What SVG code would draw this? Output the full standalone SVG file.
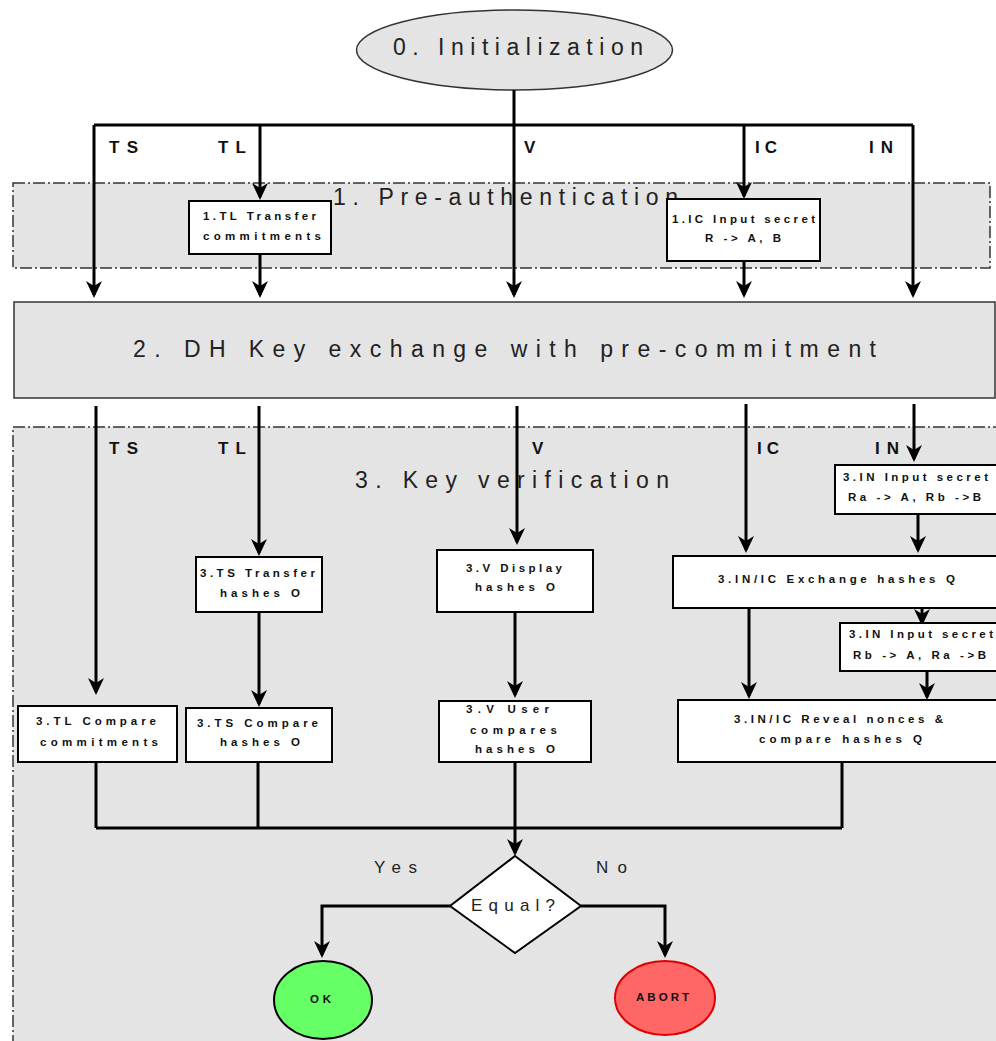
<svg xmlns="http://www.w3.org/2000/svg" width="996" height="1041" viewBox="0 0 996 1041">
<style>
.sec{fill:#e4e4e4;stroke:#333;stroke-width:1.5;stroke-dasharray:12,3,2,3}
.box{fill:#fff;stroke:#000;stroke-width:2}
.bt{font-family:"Liberation Sans",Arial,sans-serif;font-weight:bold;font-size:11.5px;fill:#111}
.lbl{font-family:"Liberation Sans",Arial,sans-serif;font-weight:bold;font-size:17px;fill:#111}
.ttl{font-family:"Liberation Sans",Arial,sans-serif;font-size:23px;fill:#222}
.yn{font-family:"Liberation Sans",Arial,sans-serif;font-size:17px;fill:#222}
.c{fill:none;stroke:#000;stroke-width:3}
.ca{fill:none;stroke:#000;stroke-width:3;marker-end:url(#ah)}
</style>
<defs>
<marker id="ah" markerUnits="userSpaceOnUse" viewBox="-17 -9 21 18" markerWidth="21" markerHeight="18" refX="0" refY="0" orient="auto">
<path d="M-14,-8 L-9,0 L-14,8 L3,0 z" fill="#000"/>
</marker>
</defs>
<rect width="996" height="1041" fill="#fff"/>

<g id="sec1">
<rect class="sec" x="13" y="183" width="977" height="85"/>
<text class="ttl" x="333" y="205" font-size="21" textLength="345" lengthAdjust="spacing">1. Pre-authentication</text>
</g>
<g id="sec3">
<rect class="sec" x="13" y="427" width="1000" height="700"/>
<text class="ttl" x="355" y="488" textLength="314" lengthAdjust="spacing">3. Key verification</text>
</g>

<g id="init">
<ellipse cx="514.5" cy="50" rx="158" ry="40" fill="#e4e4e4" stroke="#333" stroke-width="1.5"/>
<text class="ttl" x="393" y="55" textLength="250" lengthAdjust="spacing">0. Initialization</text>
</g>

<g id="dh">
<rect x="14" y="302" width="981" height="96" fill="#e4e4e4" stroke="#333" stroke-width="1.5"/>
<text class="ttl" x="133" y="357" textLength="743" lengthAdjust="spacing">2. DH Key exchange with pre-commitment</text>
</g>

<g id="connectors">
<path class="c" d="M514,90 V125 M94,125 H913"/>
<path class="ca" d="M94,125 V295"/>
<path class="ca" d="M260,125 V197"/>
<path class="ca" d="M260,254 V295"/>
<path class="ca" d="M514,125 V295"/>
<path class="ca" d="M744,125 V196"/>
<path class="ca" d="M744,261 V295"/>
<path class="ca" d="M913,125 V295"/>

<path class="ca" d="M96,406 V692"/>
<path class="ca" d="M259,406 V553"/>
<path class="ca" d="M259,612 V704"/>
<path class="ca" d="M517,406 V542"/>
<path class="ca" d="M515,612 V695"/>
<path class="ca" d="M746,404 V550"/>
<path class="ca" d="M749,590 V696"/>
<path class="ca" d="M914,404 V459"/>
<path class="ca" d="M918,514 V550"/>
<path class="ca" d="M922,590 V623"/>
<path class="ca" d="M927,671 V697"/>

<path class="c" d="M96,762 V828 M258,762 V828 M842,762 V828 M96,828 H842"/>
<path class="ca" d="M515,762 V853"/>
<path class="ca" d="M450,906 H322 V955"/>
<path class="ca" d="M581,906 H665 V955"/>
</g>

<g id="labels1">
<text class="lbl" x="109" y="153" textLength="29" lengthAdjust="spacing">TS</text>
<text class="lbl" x="218" y="153" textLength="28" lengthAdjust="spacing">TL</text>
<text class="lbl" x="524" y="153">V</text>
<text class="lbl" x="755" y="153" textLength="22" lengthAdjust="spacing">IC</text>
<text class="lbl" x="869" y="153" textLength="24" lengthAdjust="spacing">IN</text>
</g>
<g id="labels3">
<text class="lbl" x="109" y="454" textLength="29" lengthAdjust="spacing">TS</text>
<text class="lbl" x="218" y="454" textLength="28" lengthAdjust="spacing">TL</text>
<text class="lbl" x="532" y="454">V</text>
<text class="lbl" x="757" y="454" textLength="22" lengthAdjust="spacing">IC</text>
<text class="lbl" x="875" y="454" textLength="24" lengthAdjust="spacing">IN</text>
</g>

<g id="n1TL">
<rect class="box" x="189" y="201" width="142" height="53"/>
<text class="bt" x="203" y="220" textLength="113" lengthAdjust="spacing">1.TL Transfer</text>
<text class="bt" x="203" y="240" textLength="118" lengthAdjust="spacing">commitments</text>
</g>
<g id="n1IC">
<rect class="box" x="667" y="199" width="153" height="62"/>
<text class="bt" x="672" y="223" textLength="143" lengthAdjust="spacing">1.IC Input secret</text>
<text class="bt" x="705" y="242" textLength="76" lengthAdjust="spacing">R -&gt; A, B</text>
</g>

<g id="n3TLc">
<rect class="box" x="18" y="706" width="159" height="56"/>
<text class="bt" x="36" y="725" textLength="120" lengthAdjust="spacing">3.TL Compare</text>
<text class="bt" x="40" y="746" textLength="118" lengthAdjust="spacing">commitments</text>
</g>
<g id="n3TSt">
<rect class="box" x="196" y="557" width="126" height="55"/>
<text class="bt" x="200" y="577" textLength="115" lengthAdjust="spacing">3.TS Transfer</text>
<text class="bt" x="220" y="597" textLength="80" lengthAdjust="spacing">hashes O</text>
</g>
<g id="n3TSc">
<rect class="box" x="186" y="708" width="146" height="54"/>
<text class="bt" x="197" y="727" textLength="121" lengthAdjust="spacing">3.TS Compare</text>
<text class="bt" x="220" y="746" textLength="80" lengthAdjust="spacing">hashes O</text>
</g>
<g id="n3Vd">
<rect class="box" x="437" y="550" width="156" height="62"/>
<text class="bt" x="466" y="572" textLength="96" lengthAdjust="spacing">3.V Display</text>
<text class="bt" x="475" y="591" textLength="80" lengthAdjust="spacing">hashes O</text>
</g>
<g id="n3Vu">
<rect class="box" x="439" y="701" width="152" height="61"/>
<text class="bt" x="466" y="713" textLength="83" lengthAdjust="spacing">3.V User</text>
<text class="bt" x="470" y="734" textLength="87" lengthAdjust="spacing">compares</text>
<text class="bt" x="475" y="753" textLength="80" lengthAdjust="spacing">hashes O</text>
</g>
<g id="n3INa">
<rect class="box" x="835" y="465" width="170" height="49"/>
<text class="bt" x="843" y="481" textLength="145" lengthAdjust="spacing">3.IN Input secret</text>
<text class="bt" x="848" y="501" textLength="133" lengthAdjust="spacing">Ra -&gt; A, Rb -&gt;B</text>
</g>
<g id="n3Ex">
<rect class="box" x="673" y="556" width="330" height="52"/>
<text class="bt" x="718" y="583" textLength="237" lengthAdjust="spacing">3.IN/IC  Exchange hashes Q</text>
</g>
<g id="n3INb">
<rect class="box" x="840" y="623" width="165" height="48"/>
<text class="bt" x="849" y="638" textLength="144" lengthAdjust="spacing">3.IN Input secret</text>
<text class="bt" x="853" y="659" textLength="133" lengthAdjust="spacing">Rb -&gt; A, Ra -&gt;B</text>
</g>
<g id="n3Rv">
<rect class="box" x="678" y="700" width="325" height="62"/>
<text class="bt" x="734" y="723" textLength="209" lengthAdjust="spacing">3.IN/IC  Reveal nonces &amp;</text>
<text class="bt" x="759" y="743" textLength="163" lengthAdjust="spacing">compare hashes Q</text>
</g>

<g id="equal">
<polygon points="515,856 581,906 515,953 450,906" fill="#fff" stroke="#000" stroke-width="2"/>
<text class="yn" x="471" y="911" font-size="18" textLength="84" lengthAdjust="spacing">Equal?</text>
</g>
<text class="yn" x="374" y="873" textLength="43" lengthAdjust="spacing">Yes</text>
<text class="yn" x="596" y="873" textLength="31" lengthAdjust="spacing">No</text>

<g id="ok">
<ellipse cx="323" cy="1000" rx="49" ry="39" fill="#66ff66" stroke="#000" stroke-width="2"/>
<text class="bt" x="310" y="1003" font-size="8" textLength="21" lengthAdjust="spacing">OK</text>
</g>
<g id="abort">
<ellipse cx="665" cy="998" rx="50" ry="37" fill="#ff6666" stroke="#e00000" stroke-width="2"/>
<text class="bt" x="636" y="1001" font-size="8" textLength="53" lengthAdjust="spacing">ABORT</text>
</g>
</svg>
